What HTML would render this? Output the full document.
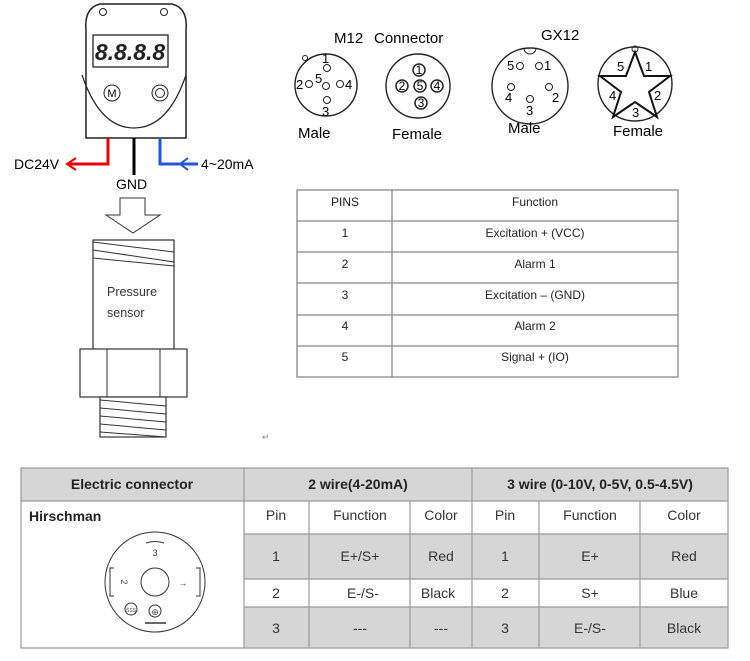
<!DOCTYPE html>
<html><head><meta charset="utf-8"><style>
body{margin:0;width:750px;height:661px;background:#fff;position:relative;overflow:hidden;font-family:"Liberation Sans",sans-serif}
svg{position:absolute;left:0;top:0}
</style></head><body>
<svg width="750" height="661" viewBox="0 0 750 661" font-family="Liberation Sans, sans-serif">
<!-- device -->
<path d="M86 138 V30 Q84 8 100 4 H172 Q188 8 186 30 V138 Z" fill="#fff" stroke="#222" stroke-width="1.5"/>
<path d="M82 75 Q100 128 134 128 Q168 128 186 75" fill="none" stroke="#222" stroke-width="1.2"/>
<circle cx="103" cy="12" r="3.5" fill="none" stroke="#222"/><circle cx="164" cy="12" r="3.5" fill="none" stroke="#222"/>
<rect x="93" y="35" width="75" height="32" fill="#fff" stroke="#222" stroke-width="1.3"/>
<text x="130" y="60" font-size="23" font-weight="bold" text-anchor="middle" fill="#222" font-style="italic">8.8.8.8</text>
<circle cx="112" cy="93" r="8" fill="none" stroke="#222"/><text x="112" y="97" font-size="11" text-anchor="middle">M</text>
<circle cx="160" cy="93" r="8" fill="none" stroke="#222"/><circle cx="160" cy="93" r="4.5" fill="none" stroke="#222"/>
<path d="M108 138 V164 H68" fill="none" stroke="#e00" stroke-width="3"/>
<path d="M76 158 L67 164 L76 170" fill="none" stroke="#e00" stroke-width="2"/>
<line x1="134" y1="138" x2="134" y2="175" stroke="#000" stroke-width="3"/>
<path d="M160 138 V164 H198" fill="none" stroke="#2255dd" stroke-width="3"/>
<path d="M188 158 L180 164 L188 170" fill="none" stroke="#2255dd" stroke-width="2"/>
<text x="14" y="169" font-size="14">DC24V</text>
<text x="201" y="169" font-size="14">4~20mA</text>
<text x="116" y="189" font-size="14">GND</text>
<path d="M120 198 H145 V215 H160 L133 233 L106 215 H120 Z" fill="#fff" stroke="#333" stroke-width="1"/>
<!-- sensor -->
<rect x="93" y="240" width="81" height="110" fill="#fff" stroke="#333" stroke-width="1.2"/>
<path d="M93 242 L174 252 M93 250 L174 262 M93 258 L174 266" stroke="#333" stroke-width="1"/>
<text x="107" y="296" font-size="12.5" fill="#333">Pressure</text>
<text x="107" y="317" font-size="12.5" fill="#333">sensor</text>
<rect x="80" y="349" width="107" height="48" fill="#fff" stroke="#333" stroke-width="1.2"/>
<line x1="107" y1="349" x2="107" y2="397" stroke="#333"/><line x1="160" y1="349" x2="160" y2="397" stroke="#333"/>
<rect x="100" y="397" width="66" height="40" fill="#fff" stroke="#333" stroke-width="1.2"/>
<path d="M100 400 L166 406 M100 408 L166 414 M100 416 L166 422 M100 424 L166 430 M100 432 L166 437" stroke="#333"/>
<!-- M12 -->
<text x="334" y="43" font-size="15">M12</text><text x="374" y="43" font-size="15">Connector</text>
<circle cx="326" cy="85" r="31" fill="none" stroke="#222" stroke-width="1.4"/>
<circle cx="327" cy="68" r="3.5" fill="none" stroke="#222"/><text x="322" y="63" font-size="13">1</text>
<circle cx="305" cy="58" r="2.5" fill="none" stroke="#222"/>
<text x="296" y="89" font-size="13">2</text><circle cx="309" cy="84" r="3.5" fill="none" stroke="#222"/>
<text x="315" y="83" font-size="13">5</text><circle cx="326" cy="86" r="3.5" fill="none" stroke="#222"/>
<circle cx="340" cy="84" r="3.5" fill="none" stroke="#222"/><text x="345" y="89" font-size="13">4</text>
<circle cx="327" cy="100" r="3.5" fill="none" stroke="#222"/><text x="322" y="116" font-size="13">3</text>
<text x="298" y="138" font-size="15">Male</text>
<circle cx="418" cy="86" r="32" fill="none" stroke="#222" stroke-width="1.4"/>
<g font-size="12" text-anchor="middle">
<circle cx="419" cy="70" r="6" fill="none" stroke="#222" stroke-width="1.5"/><text x="419" y="74">1</text>
<circle cx="402" cy="86" r="6" fill="none" stroke="#222" stroke-width="1.5"/><text x="402" y="90">2</text>
<circle cx="420" cy="86" r="6" fill="none" stroke="#222" stroke-width="1.5"/><text x="420" y="90">5</text>
<circle cx="437" cy="86" r="6" fill="none" stroke="#222" stroke-width="1.5"/><text x="437" y="90">4</text>
<circle cx="421" cy="103" r="6" fill="none" stroke="#222" stroke-width="1.5"/><text x="421" y="107">3</text>
</g>
<text x="392" y="139" font-size="15">Female</text>
<!-- GX12 -->
<text x="541" y="40" font-size="15">GX12</text>
<circle cx="530" cy="86" r="38" fill="none" stroke="#222" stroke-width="1.4"/>
<path d="M524 48 A6 6 0 0 0 536 48" fill="none" stroke="#222"/>
<g font-size="13"><text x="507" y="70">5</text><circle cx="520" cy="66" r="3.5" fill="none" stroke="#222"/>
<circle cx="539" cy="66" r="3.5" fill="none" stroke="#222"/><text x="544" y="70">1</text>
<circle cx="511" cy="87" r="3.5" fill="none" stroke="#222"/><text x="505" y="102">4</text>
<circle cx="549" cy="87" r="3.5" fill="none" stroke="#222"/><text x="552" y="102">2</text>
<circle cx="530" cy="99" r="3.5" fill="none" stroke="#222"/><text x="526" y="115">3</text></g>
<text x="508" y="133" font-size="15">Male</text>
<circle cx="635" cy="84" r="37" fill="none" stroke="#222" stroke-width="1.4"/>
<circle cx="635" cy="49" r="3" fill="none" stroke="#222"/>
<polygon points="635,52 644,76 670,76 649,92 657,117 635,102 613,117 621,92 600,76 626,76" fill="#fff" stroke="#111" stroke-width="2"/>
<g font-size="13"><text x="617" y="71">5</text><text x="645" y="71">1</text><text x="609" y="100">4</text><text x="654" y="100">2</text><text x="632" y="117">3</text></g>
<text x="613" y="136" font-size="15">Female</text>
<!-- pins table -->
<g stroke="#888" stroke-width="1.3" fill="none">
<rect x="297" y="190" width="381" height="187"/>
<line x1="392" y1="190" x2="392" y2="377"/>
<line x1="297" y1="221" x2="678" y2="221"/><line x1="297" y1="252" x2="678" y2="252"/>
<line x1="297" y1="283" x2="678" y2="283"/><line x1="297" y1="315" x2="678" y2="315"/><line x1="297" y1="346" x2="678" y2="346"/>
</g>
<g font-size="12" text-anchor="middle" fill="#222">
<text x="345" y="206">PINS</text><text x="535" y="206">Function</text>
<text x="345" y="237">1</text><text x="535" y="237">Excitation + (VCC)</text>
<text x="345" y="268">2</text><text x="535" y="268">Alarm 1</text>
<text x="345" y="299">3</text><text x="535" y="299">Excitation – (GND)</text>
<text x="345" y="330">4</text><text x="535" y="330">Alarm 2</text>
<text x="345" y="361">5</text><text x="535" y="361">Signal + (IO)</text>
</g>
<text x="262" y="440" font-size="9" fill="#888">↵</text>
<!-- bottom table -->
<rect x="21" y="468" width="707" height="33" fill="#d6d6d6"/>
<rect x="244" y="534" width="484" height="45" fill="#d6d6d6"/>
<rect x="244" y="607" width="484" height="41" fill="#d6d6d6"/>
<g stroke="#999" stroke-width="1.2" fill="none">
<rect x="21" y="468" width="707" height="180"/>
<line x1="21" y1="501" x2="728" y2="501"/>
<line x1="244" y1="468" x2="244" y2="648"/><line x1="472" y1="468" x2="472" y2="648"/>
<line x1="309" y1="501" x2="309" y2="648"/><line x1="410" y1="501" x2="410" y2="648"/>
<line x1="539" y1="501" x2="539" y2="648"/><line x1="640" y1="501" x2="640" y2="648"/>
<line x1="244" y1="534" x2="728" y2="534"/><line x1="244" y1="579" x2="728" y2="579"/><line x1="244" y1="607" x2="728" y2="607"/>
</g>
<g font-size="14" font-weight="bold" text-anchor="middle" fill="#222">
<text x="132" y="489">Electric connector</text><text x="358" y="489">2 wire(4-20mA)</text><text x="600" y="489">3 wire (0-10V, 0-5V, 0.5-4.5V)</text>
</g>
<text x="29" y="521" font-size="14" font-weight="bold" fill="#222">Hirschman</text>
<g font-size="14" text-anchor="middle" fill="#333">
<text x="276" y="520">Pin</text><text x="360" y="520">Function</text><text x="441" y="520">Color</text>
<text x="505" y="520">Pin</text><text x="590" y="520">Function</text><text x="684" y="520">Color</text>
<text x="276" y="561">1</text><text x="360" y="561">E+/S+</text><text x="441" y="561">Red</text>
<text x="505" y="561">1</text><text x="590" y="561">E+</text><text x="684" y="561">Red</text>
<text x="276" y="598">2</text><text x="363" y="598">E-/S-</text><text x="438" y="598">Black</text>
<text x="505" y="598">2</text><text x="590" y="598">S+</text><text x="684" y="598">Blue</text>
<text x="276" y="633">3</text><text x="360" y="633">---</text><text x="441" y="633">---</text>
<text x="505" y="633">3</text><text x="590" y="633">E-/S-</text><text x="684" y="633">Black</text>
</g>
<!-- hirschman icon -->
<g stroke="#333" fill="none" stroke-width="1">
<circle cx="155" cy="582" r="50"/>
<circle cx="155" cy="582" r="14"/>
<path d="M146 543 Q155 540 164 543"/>
<path d="M114 568 L110 568 L110 596 L114 596"/>
<path d="M196 568 L200 568 L200 596 L196 596"/>
<circle cx="131" cy="609" r="6"/>
<circle cx="155" cy="611" r="6"/>
<line x1="145" y1="623" x2="166" y2="623" stroke-width="1.5"/>
</g>
<g font-size="9" fill="#444" text-anchor="middle"><text x="155" y="556">3</text><text x="124" y="585" transform="rotate(90 124 582)">2</text><text x="183" y="586">→</text><text x="131" y="612" font-size="5">SSS</text><text x="155" y="615" font-size="9">⊕</text></g>
</svg>
</body></html>
